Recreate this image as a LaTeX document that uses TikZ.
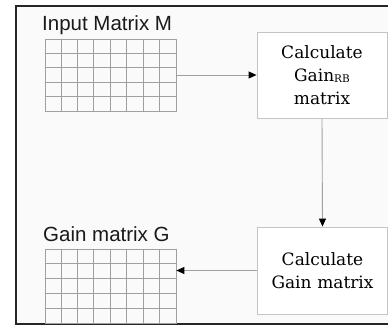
\documentclass[tikz,border=0pt]{standalone}
\usepackage{fontspec}
\setmainfont{DejaVu Serif}
\newfontfamily\arialfont{Liberation Sans}
\usetikzlibrary{arrows.meta,calc}
\definecolor{bgcol}{HTML}{FAFAFA}
\definecolor{gridcol}{HTML}{A0A0A0}
\definecolor{boxcol}{HTML}{C4C4C4}
\definecolor{txtcol}{HTML}{1A1A1A}
\definecolor{linecol}{HTML}{A0A0A0}
\begin{document}
\begin{tikzpicture}[x=1pt,y=-1pt,
  matnode/.style={draw=gridcol, line width=0.7pt, inner sep=0pt, minimum width=131pt},
  gridline/.style={draw=gridcol, line width=0.7pt},
  procbox/.style={draw=boxcol, fill=white, line width=0.9pt, inner sep=0pt,
    minimum width=130pt, minimum height=86pt, text width=126pt, align=center,
    font=\fontsize{17}{23}\selectfont, text=black},
  title/.style={font=\arialfont\fontsize{20.5}{24}\selectfont, text=txtcol, inner sep=0pt, anchor=base west},
  conn/.style={draw=linecol, line width=0.9pt, -{Triangle[length=8pt,width=7pt,color=black]}}
]
\useasboundingbox (0,0) rectangle (388,327);
\fill[white] (0,0) rectangle (388,327);
\fill[bgcol] (16,6) rectangle (388,324);
\draw[line width=2pt, black!85] (400,6) -- (16,6) -- (16,324) -- (400,324);

\node[title] (t1) at (42,30) {Input Matrix M};
\node[title] (t2) at (43,241) {Gain matrix G};

\node[matnode, minimum height=72pt] (gm1) at (110.5,75) {};
\node[matnode, minimum height=74pt] (gm2) at (110.5,286) {};
\foreach \g/\h in {gm1/72,gm2/74}{
  \foreach \i in {1,...,7}
    \draw[gridline] ($(\g.north west)+(\i*131/8,0)$) -- ($(\g.south west)+(\i*131/8,0)$);
  \foreach \j in {1,...,4}
    \draw[gridline] ($(\g.north west)+(0,\j*\h/5)$) -- ($(\g.north east)+(0,\j*\h/5)$);
}

\node[procbox] (b1) at (322,75) {Calculate\\Gain{\fontsize{10.5}{12}\selectfont\raisebox{-1pt}{RB}}\\matrix};
\node[procbox, minimum height=87pt] (b2) at (322.5,270.5) {Calculate\\Gain matrix};

\draw[conn] (gm1.east) -- (b1.west);
\draw[conn] (b1.south) -- (b2.north);
\draw[conn] (b2.west) -- (gm2.east |- b2.west);
\end{tikzpicture}
\end{document}
